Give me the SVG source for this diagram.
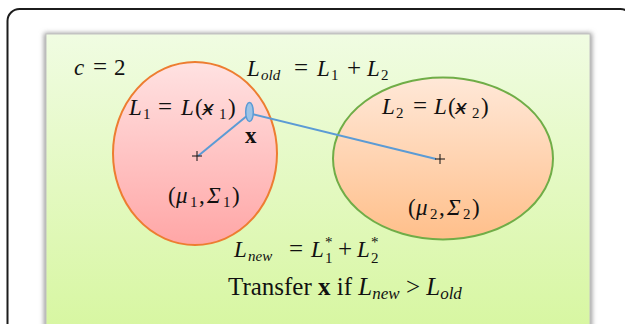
<svg xmlns="http://www.w3.org/2000/svg" width="625" height="324" viewBox="0 0 625 324">
  <defs>
    <linearGradient id="gPanel" x1="0" y1="0" x2="0" y2="1">
      <stop offset="0" stop-color="#f0fce2"/>
      <stop offset="1" stop-color="#d6f69e"/>
    </linearGradient>
    <linearGradient id="gRed" x1="0" y1="0" x2="0" y2="1">
      <stop offset="0" stop-color="#ffe2e2"/>
      <stop offset="1" stop-color="#ffa6a6"/>
    </linearGradient>
    <linearGradient id="gPeach" x1="0" y1="0" x2="0" y2="1">
      <stop offset="0" stop-color="#ffe8d8"/>
      <stop offset="1" stop-color="#ffbf8a"/>
    </linearGradient>
    <filter id="shadow" x="-5%" y="-5%" width="110%" height="110%">
      <feGaussianBlur stdDeviation="2.5"/>
    </filter>
    <style>
      .m { font-family: "Liberation Serif", "DejaVu Serif", serif; font-style: italic; font-size: 23px; fill: #111; }
      .u { font-style: normal; }
      .op { font-style: normal; font-size: 25px; }
      .s { font-size: 15px; }
      .ha { font-family: "DejaVu Serif", "DejaVu Sans", serif; font-size: 20px; font-weight: normal; }
      .t { font-family: "Liberation Serif", serif; font-size: 25px; fill: #111; }
      .b { font-weight: bold; }
      .conn { stroke: #5b9bd5; stroke-width: 2; fill: none; }
      .plus { stroke: #111; stroke-width: 1; fill: none; }
    </style>
  </defs>

  <rect id="frame" x="7.5" y="9" width="625" height="340" rx="12" fill="#ffffff" stroke="#1c1c1c" stroke-width="2"/>

  <g id="panel">
    <rect x="44" y="33" width="548" height="310" fill="#9a9a9a" filter="url(#shadow)"/>
    <rect x="46" y="34" width="544" height="310" fill="url(#gPanel)" stroke="#c2c2c2" stroke-width="1"/>
  </g>

  <g id="cluster1">
    <ellipse cx="195" cy="153.5" rx="82" ry="91.5" fill="url(#gRed)" stroke="#ed7d31" stroke-width="2"/>
  </g>
  <g id="cluster2">
    <ellipse cx="443" cy="158.5" rx="110" ry="81" fill="url(#gPeach)" stroke="#70ad47" stroke-width="2"/>
  </g>

  <g id="connectors">
    <line class="conn" x1="248" y1="115" x2="198" y2="156"/>
    <line class="conn" x1="252" y1="114" x2="436" y2="159"/>
  </g>

  <g id="point-x">
    <ellipse cx="249.5" cy="112" rx="3.8" ry="9.5" fill="#9dc3e6" stroke="#5b9bd5" stroke-width="1.5"/>
    <text x="245" y="143" class="m u b">x</text>
  </g>

  <g id="centers">
    <path class="plus" d="M192,156h10M197,151v10"/>
    <path class="plus" d="M435,159h10M440,154v10"/>
  </g>

  <g id="label-c">
    <text class="m"><tspan x="74" y="75">c</tspan><tspan class="op" x="100" y="75" text-anchor="middle">=</tspan><tspan class="u" x="114" y="75">2</tspan></text>
  </g>

  <g id="label-Lold">
    <text class="m"><tspan x="247" y="76">L</tspan><tspan class="s" x="261" y="80">old</tspan><tspan class="op" x="301" y="76" text-anchor="middle">=</tspan><tspan x="317" y="76">L</tspan><tspan class="u s" x="331" y="80">1</tspan><tspan class="op" x="354" y="76" text-anchor="middle">+</tspan><tspan x="367" y="76">L</tspan><tspan class="u s" x="381" y="80">2</tspan></text>
  </g>

  <g id="label-L1">
    <text class="m"><tspan x="129" y="115">L</tspan><tspan class="u s" x="143" y="119">1</tspan><tspan class="op" x="165" y="115" text-anchor="middle">=</tspan><tspan x="181" y="115">L</tspan><tspan class="u" x="195" y="115">(</tspan><tspan class="ha" x="202" y="115">ӿ</tspan><tspan class="u s" x="219" y="119">1</tspan><tspan class="u" x="228" y="115">)</tspan></text>
  </g>

  <g id="label-L2">
    <text class="m"><tspan x="382" y="114">L</tspan><tspan class="u s" x="396" y="118">2</tspan><tspan class="op" x="420" y="114" text-anchor="middle">=</tspan><tspan x="434" y="114">L</tspan><tspan class="u" x="448" y="114">(</tspan><tspan class="ha" x="455" y="114">ӿ</tspan><tspan class="u s" x="472" y="118">2</tspan><tspan class="u" x="481" y="114">)</tspan></text>
  </g>

  <g id="label-params1">
    <text class="m"><tspan class="u" x="168" y="203">(</tspan><tspan x="176" y="203">μ</tspan><tspan class="u s" x="190" y="207">1</tspan><tspan class="u" x="199" y="203">,</tspan><tspan x="207" y="203">Σ</tspan><tspan class="u s" x="223" y="207">1</tspan><tspan class="u" x="232" y="203">)</tspan></text>
  </g>

  <g id="label-params2">
    <text class="m"><tspan class="u" x="408" y="215">(</tspan><tspan x="416" y="215">μ</tspan><tspan class="u s" x="430" y="219">2</tspan><tspan class="u" x="439" y="215">,</tspan><tspan x="447" y="215">Σ</tspan><tspan class="u s" x="463" y="219">2</tspan><tspan class="u" x="472" y="215">)</tspan></text>
  </g>

  <g id="label-Lnew">
    <text class="m"><tspan x="234" y="257">L</tspan><tspan class="s" x="248" y="261">new</tspan><tspan class="op" x="296" y="257" text-anchor="middle">=</tspan><tspan x="311" y="257">L</tspan><tspan class="u s" x="325" y="263">1</tspan><tspan class="u s" x="325" y="247">*</tspan><tspan class="op" x="345" y="257" text-anchor="middle">+</tspan><tspan x="357" y="257">L</tspan><tspan class="u s" x="371" y="263">2</tspan><tspan class="u s" x="371" y="247">*</tspan></text>
  </g>

  <g id="label-transfer">
    <text class="t" x="228" y="295">Transfer <tspan class="b">x</tspan> if <tspan font-style="italic">L</tspan><tspan font-style="italic" font-size="17" dy="4">new</tspan><tspan dy="-4"> &gt; </tspan><tspan font-style="italic">L</tspan><tspan font-style="italic" font-size="17" dy="4">old</tspan></text>
  </g>
</svg>
